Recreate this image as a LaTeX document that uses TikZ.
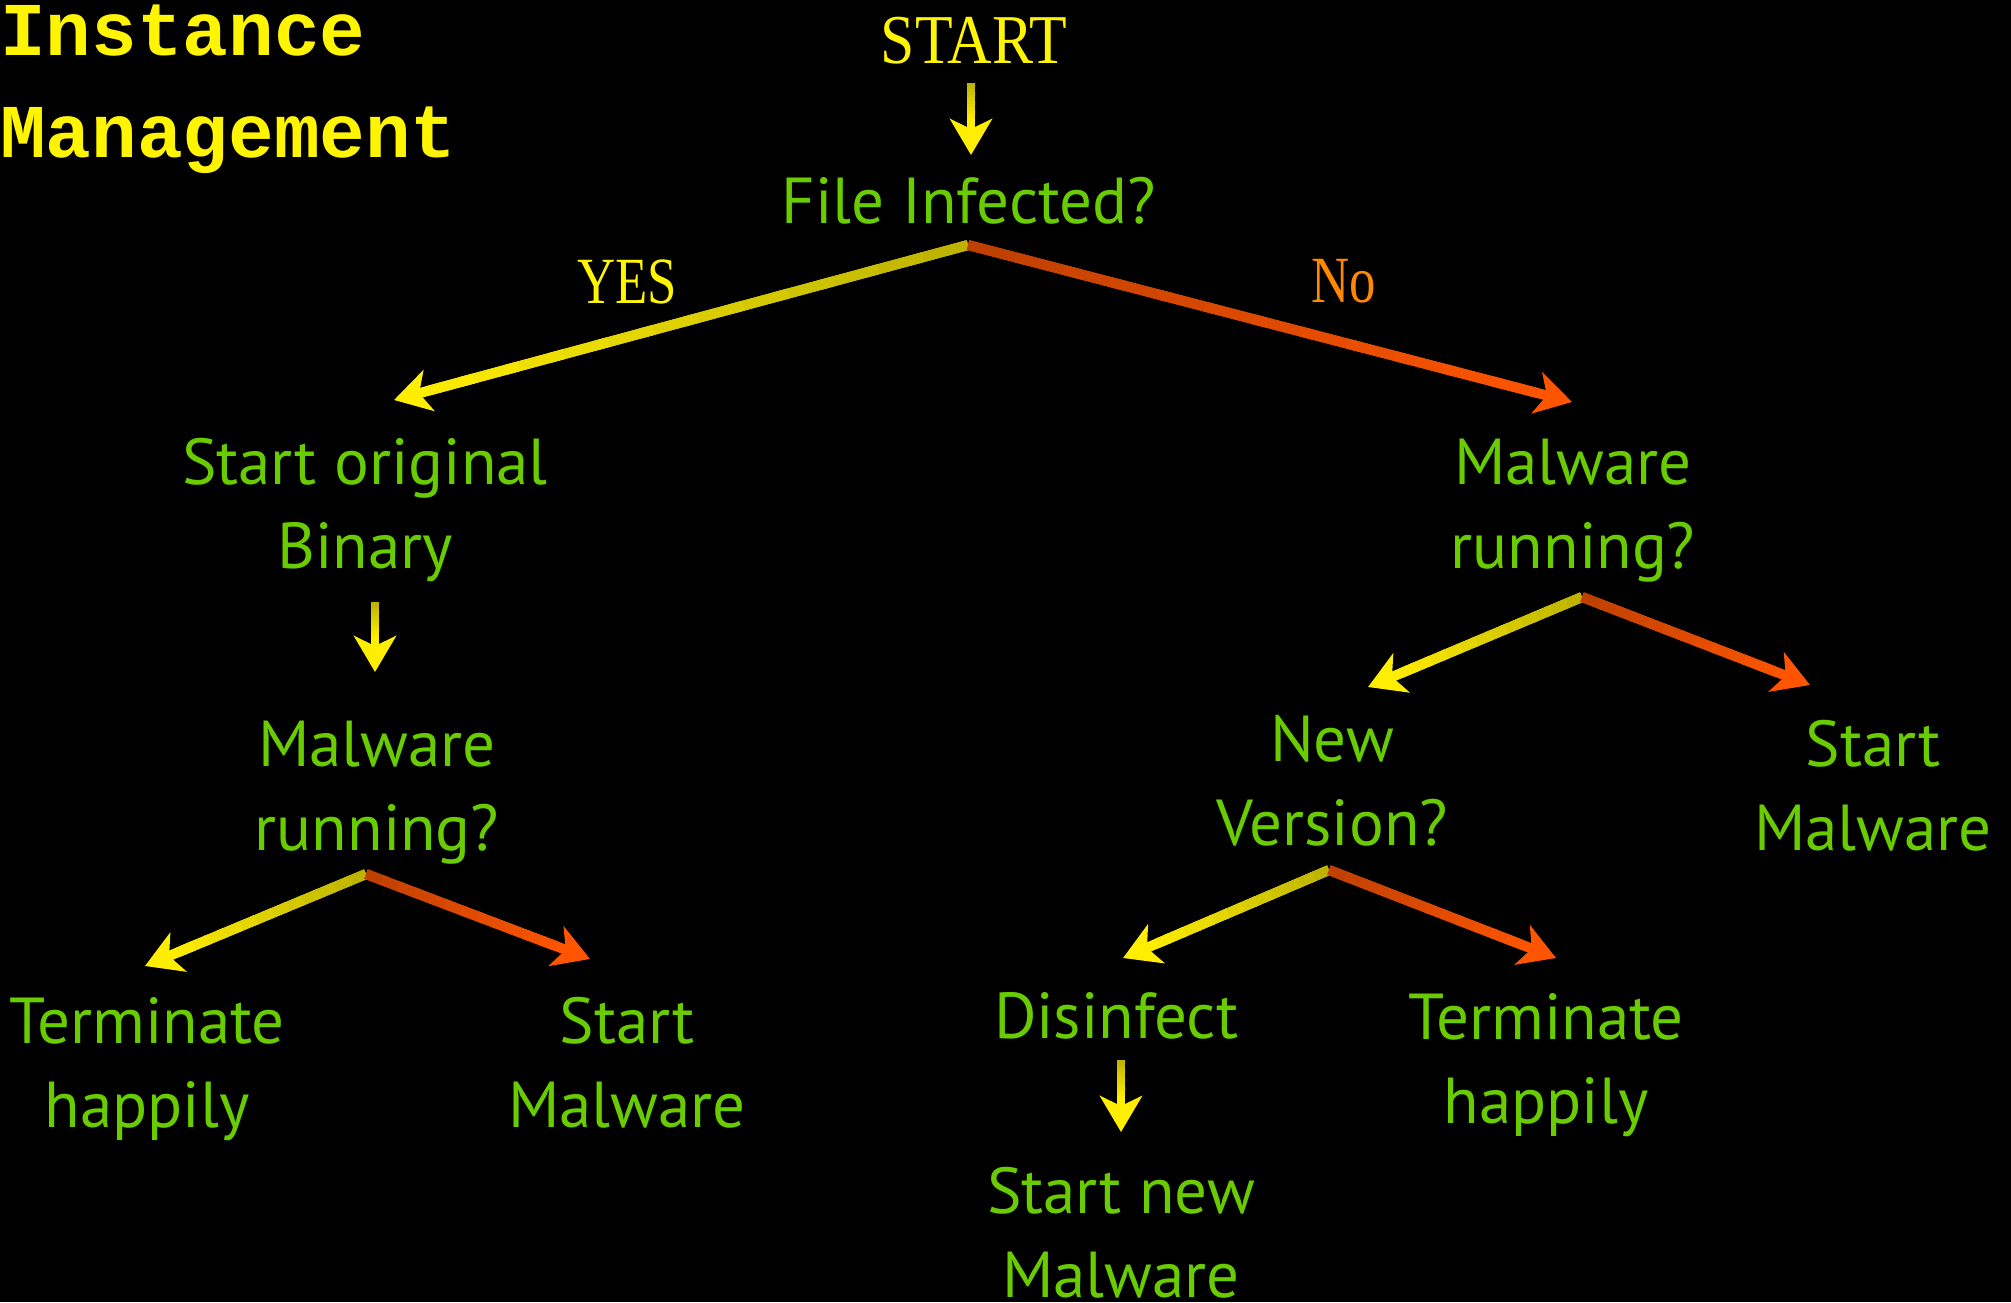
\documentclass[tikz,border=0pt]{standalone}
\usepackage{fontspec}
\setmainfont{PT Sans}
\newfontfamily\twfont[FakeStretch=0.8]{Liberation Serif}
\newfontfamily\twwidefont[FakeStretch=0.88]{Liberation Serif}
\newfontfamily\ttlfont{Liberation Mono}
\usetikzlibrary{arrows.meta,calc}
\definecolor{grn}{RGB}{104,204,0}
\definecolor{ttlyel}{RGB}{255,245,0}
\definecolor{noorg}{RGB}{255,136,0}
\definecolor{ydark}{RGB}{190,180,0}
\definecolor{ybright}{RGB}{255,238,0}
\definecolor{odark}{RGB}{192,64,0}
\definecolor{obright}{RGB}{255,85,0}
\tikzset{
  box/.style={text=grn, font=\fontsize{32.5}{42}\selectfont, align=center, inner sep=0pt, anchor=base},
  ttl/.style={text=ttlyel, font=\ttlfont\bfseries\fontsize{38}{40}\selectfont, inner sep=0pt, anchor=base west},
  tw/.style={font=\twfont\fontsize{33}{40}\selectfont, inner sep=0pt, anchor=base},
  headtip/.style={-{Stealth[length=18pt,width=21pt,inset=5pt]}}
}
\newcommand\gradarrow[5]{%
  \draw[line width=#5, #4, headtip] (#1) -- (#2);
  \coordinate (gbase) at ($(#2)!18pt!(#1)$);
  \foreach \i in {0,...,11}{%
    \pgfmathsetmacro\pa{\i/12}%
    \pgfmathsetmacro\pb{min(1,(\i+1.3)/12)}%
    \pgfmathtruncatemacro\pc{100-\i*100/12}%
    \draw[line width=#5, color=#3!\pc!#4] ($(#1)!\pa!(gbase)$) -- ($(#1)!\pb!(gbase)$);
  }%
}
\begin{document}
\begin{tikzpicture}[x=0.5pt,y=-0.5pt]
\fill[black] (0,0) rectangle (2011,1302);
\useasboundingbox (0,0) rectangle (2011,1302);

% titles
\node[ttl] (t1) at (0,55) {Instance};
\node[ttl] (t2) at (0,157) {Management};
\node[tw, text=ttlyel, font=\twwidefont\fontsize{35}{40}\selectfont] (start) at (974,63) {START};
\node[tw, text=ttlyel] (yes) at (627,303) {YES};
\node[tw, text=noorg] (no) at (1344,302) {No};

% green texts (two-line nodes: base = baseline of last line)
\node[box] (infected) at (969,223) {File Infected?};
\node[box] (orig) at (365,568) {Start original\\Binary};
\node[box] (runL) at (377,850) {Malware\\running?};
\node[box] (termL) at (147,1127) {Terminate\\happily};
\node[box] (startL) at (627,1127) {Start\\Malware};
\node[box] (runR) at (1573,568) {Malware\\running?};
\node[box] (newv) at (1332,845) {New\\Version?};
\node[box] (startR) at (1873,850) {Start\\Malware};
\node[box] (disinf) at (1116,1038) {Disinfect};
\node[box] (termR) at (1546,1123) {Terminate\\happily};
\node[box] (startnew) at (1121,1297) {Start new\\Malware};

% connector coordinates
\coordinate (a0s) at (971,83);   \coordinate (a0e) at (971,155);
\coordinate (f1) at (968,245);   \coordinate (f1y) at (394,400);  \coordinate (f1n) at (1572,402);
\coordinate (a1s) at (375,602);  \coordinate (a1e) at (375,672);
\coordinate (f2) at (366,874);   \coordinate (f2y) at (145,966);  \coordinate (f2n) at (590,959);
\coordinate (f3) at (1582,597);  \coordinate (f3y) at (1368,687); \coordinate (f3n) at (1810,685);
\coordinate (f4) at (1329,870);  \coordinate (f4y) at (1123,958); \coordinate (f4n) at (1556,958);
\coordinate (a2s) at (1121,1060); \coordinate (a2e) at (1121,1132);

\gradarrow{a0s}{a0e}{ydark}{ybright}{4pt}
\gradarrow{a1s}{a1e}{ydark}{ybright}{4pt}
\gradarrow{a2s}{a2e}{ydark}{ybright}{4pt}
\gradarrow{f1}{f1y}{ydark}{ybright}{5pt}
\gradarrow{f1}{f1n}{odark}{obright}{5pt}
\gradarrow{f2}{f2y}{ydark}{ybright}{5pt}
\gradarrow{f2}{f2n}{odark}{obright}{5pt}
\gradarrow{f3}{f3y}{ydark}{ybright}{5pt}
\gradarrow{f3}{f3n}{odark}{obright}{5pt}
\gradarrow{f4}{f4y}{ydark}{ybright}{5pt}
\gradarrow{f4}{f4n}{odark}{obright}{5pt}
\end{tikzpicture}
\end{document}
